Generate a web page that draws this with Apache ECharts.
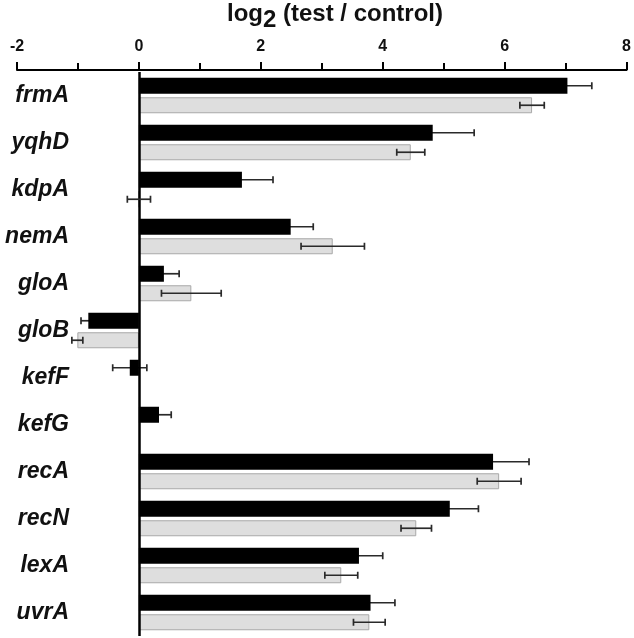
<!DOCTYPE html>
<html>
<head>
<meta charset="utf-8">
<script src="https://cdn.jsdelivr.net/npm/echarts@6/dist/echarts.min.js"></script>
<style>
html,body{margin:0;padding:0;background:#fff;}
#chart{width:634px;height:638px;}
</style>
</head>
<body>
<div id="chart"></div>
<script>
var categories = ['frmA','yqhD','kdpA','nemA','gloA','gloB','kefF','kefG','recA','recN','lexA','uvrA'];
var blackValues = [7.03, 4.82, 1.69, 2.49, 0.41, -0.83, -0.15, 0.33, 5.81, 5.10, 3.61, 3.80];
var blackErrors = [0.40, 0.68, 0.51, 0.37, 0.25, 0.12, 0.28, 0.20, 0.59, 0.47, 0.39, 0.40];
var grayValues  = [6.45, 4.46, 0.00, 3.18, 0.86, -1.01, null, null, 5.91, 4.55, 3.32, 3.78];
var grayErrors  = [0.20, 0.23, 0.19, 0.52, 0.49, 0.09, null, null, 0.36, 0.25, 0.27, 0.26];
var xTicks = [-2, 0, 2, 4, 6, 8];

var BAR_W = 16;
var BAR_GAP_PX = 3.5;
var OFFSET = (BAR_W + BAR_GAP_PX) / 2;

function errData(vals, errs, side) {
  var out = [];
  for (var i = 0; i < vals.length; i++) {
    if (vals[i] === null || errs[i] === null) continue;
    out.push([i, vals[i] - errs[i], vals[i] + errs[i], side]);
  }
  return out;
}

function renderErr(params, api) {
  var c = api.value(0);
  var lo = api.coord([api.value(1), c]);
  var hi = api.coord([api.value(2), c]);
  var y = lo[1] + api.value(3) * OFFSET;
  var cap = 3.5;
  var style = { stroke: '#2a2a2a', lineWidth: 1.7 };
  return {
    type: 'group',
    children: [
      { type: 'line', shape: { x1: lo[0], y1: y, x2: hi[0], y2: y }, style: style },
      { type: 'line', shape: { x1: lo[0], y1: y - cap, x2: lo[0], y2: y + cap }, style: style },
      { type: 'line', shape: { x1: hi[0], y1: y - cap, x2: hi[0], y2: y + cap }, style: style }
    ]
  };
}

var chart = echarts.init(document.getElementById('chart'), null, { renderer: 'canvas' });
var FONT = '"Liberation Sans", Arial, Helvetica, sans-serif';
chart.setOption({
  animation: false,
  backgroundColor: '#fff',
  title: {
    text: '{a|log}{b|2}{a| (test / control)}',
    left: 330,
    textAlign: 'center',
    top: -3,
    textStyle: {
      rich: {
        a: { fontFamily: FONT, fontWeight: 'bold', fontSize: 24, color: '#111', lineHeight: 26, verticalAlign: 'top' },
        b: { fontFamily: FONT, fontWeight: 'bold', fontSize: 24, color: '#111', lineHeight: 26, verticalAlign: 'top', padding: [6, 0, 0, 0] }
      }
    }
  },
  grid: { left: 17, right: 7, top: 72, bottom: 2, containLabel: false },
  xAxis: {
    type: 'value',
    position: 'top',
    offset: 2,
    min: xTicks[0],
    max: xTicks[xTicks.length - 1],
    interval: 2,
    axisLine: { show: true, onZero: false, lineStyle: { color: '#000', width: 2 } },
    axisTick: { show: true, length: 8, lineStyle: { color: '#000', width: 2 } },
    minorTick: { show: true, splitNumber: 2, length: 7, lineStyle: { color: '#000', width: 2 } },
    splitLine: { show: false },
    axisLabel: { fontFamily: FONT, fontWeight: 'bold', fontSize: 16, color: '#111', margin: 15 }
  },
  yAxis: {
    type: 'category',
    data: categories,
    inverse: true,
    axisLine: { show: false, onZero: false },
    axisTick: { show: false },
    splitLine: { show: false },
    axisLabel: { show: true, interval: 0, fontFamily: FONT, fontWeight: 'bold', fontStyle: 'italic', fontSize: 23, color: '#111', margin: -52, align: 'right', padding: [5, 0, 0, 0] }
  },
  series: [
    { type: 'custom', renderItem: renderErr, data: errData(blackValues, blackErrors, -1), encode: { x: [1, 2], y: 0 }, z: 1 },
    {
      type: 'bar', name: 'black', data: blackValues, barWidth: BAR_W, barGap: (BAR_GAP_PX / BAR_W * 100) + '%',
      itemStyle: { color: '#000' }, z: 2,
      markLine: {
        silent: true, symbol: ['none', 'none'], label: { show: false },
        lineStyle: { color: '#000', width: 2.5, type: 'solid' },
        data: [{ xAxis: 0 }]
      }
    },
    {
      type: 'bar', name: 'gray', data: grayValues, barWidth: BAR_W,
      itemStyle: { color: '#dedede', borderColor: '#a8a8a8', borderWidth: 1 }, z: 2
    },
    { type: 'custom', renderItem: renderErr, data: errData(grayValues, grayErrors, 1), encode: { x: [1, 2], y: 0 }, z: 5 }
  ]
});
</script>
</body>
</html>
